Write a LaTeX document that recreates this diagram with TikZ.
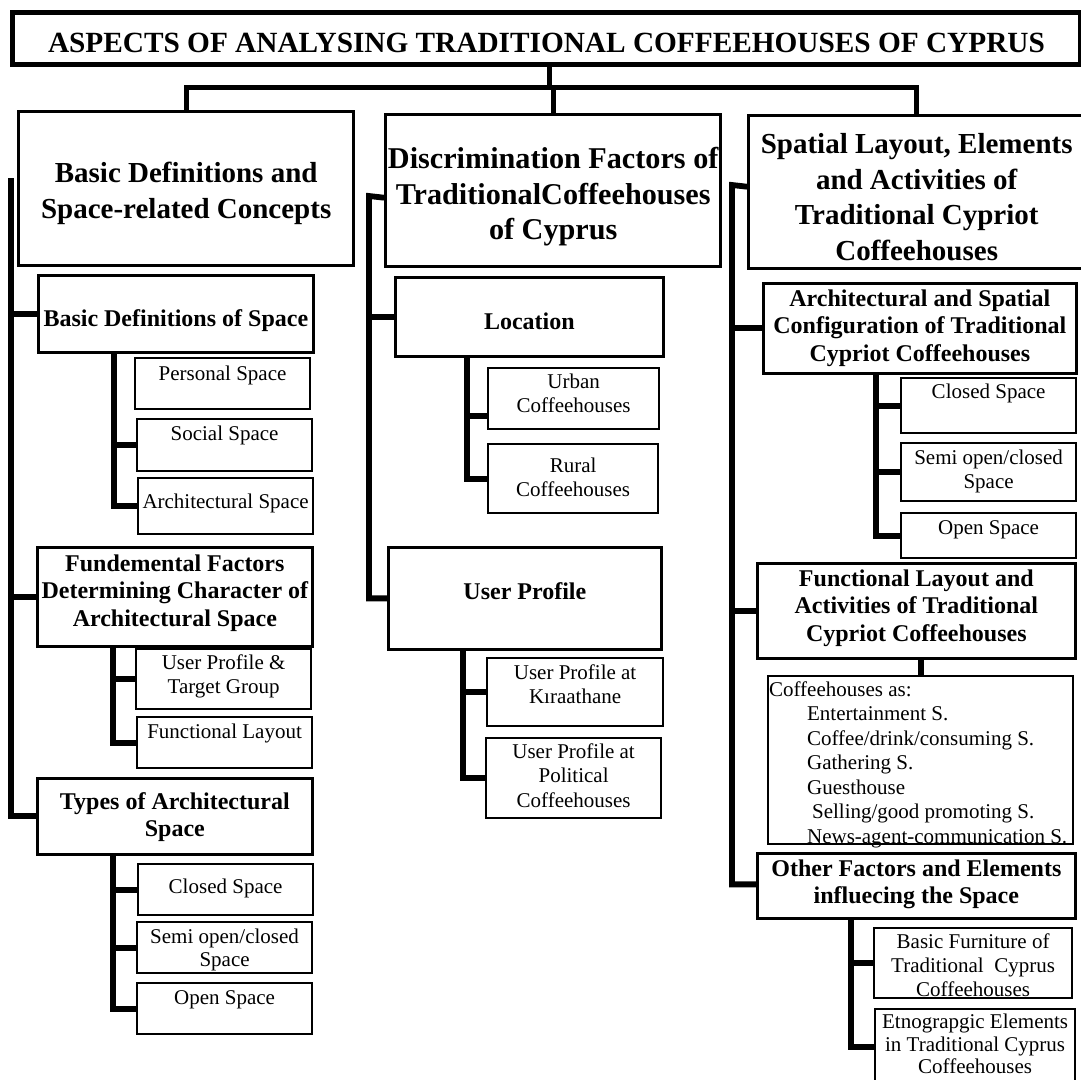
\documentclass[tikz,border=0pt]{standalone}
\usepackage{fontspec}
\setmainfont{Liberation Serif}
\newcommand{\mybox}[8]{\node[#1] (#2) at (#3,#4) {\parbox[t][#6pt][t]{#5pt}{\centering\rule{0pt}{#7pt}#8}};}
\begin{document}
\begin{tikzpicture}[x=1pt,y=-1pt,
  conn/.style={line width=5.8pt},
  tconn/.style={line width=5pt},
  ttlbox/.style={draw, line width=5pt, inner sep=0pt, anchor=north west, font=\fontsize{29.3}{35}\selectfont\bfseries},
  hbox/.style={draw, line width=3.4pt, inner sep=0pt, anchor=north west, font=\fontsize{29}{35.5}\selectfont\bfseries},
  mbox/.style={draw, line width=3.4pt, inner sep=0pt, anchor=north west, font=\fontsize{30.2}{35.5}\selectfont\bfseries},
  sbox/.style={draw, line width=2.7pt, inner sep=0pt, anchor=north west, font=\fontsize{24}{27.5}\selectfont\bfseries},
  cbox/.style={draw, line width=2.2pt, inner sep=0pt, anchor=north west, font=\fontsize{21}{24.5}\selectfont},
]
\fill[white] (0,0) rectangle (1081,1079);
\useasboundingbox (0,0) rectangle (1081,1079);

% title
\mybox{ttlbox}{title}{10}{10}{1068}{52}{40}{ASPECTS OF ANALYSING TRADITIONAL COFFEEHOUSES OF CYPRUS}

% headings
\mybox{hbox}{bdc}{17}{110}{335}{154}{71}{Basic Definitions and\\Space-related Concepts}
\mybox{mbox}{dis}{384}{113}{335}{152}{54}{Discrimination Factors of\\TraditionalCoffeehouses\\of Cyprus}
\mybox{hbox}{spa}{747}{114}{336}{153}{38}{Spatial Layout, Elements\\and Activities of\\Traditional Cypriot\\Coffeehouses}

% left column
\mybox{sbox}{bds}{37}{274}{275}{77}{51}{Basic Definitions of Space}
\mybox{cbox}{per}{134}{357}{175}{51}{22}{Personal Space}
\mybox{cbox}{soc}{136}{418}{175}{52}{21}{Social Space}
\mybox{cbox}{ars}{137}{477}{175}{56}{30}{Architectural Space}
\mybox{sbox}{ffd}{36}{546}{275}{99}{24}{Fundemental Factors\\Determining Character of\\Architectural Space}
\mybox{cbox}{upt}{135}{648}{175}{60}{20}{User Profile \&\\Target Group}
\mybox{cbox}{fnl}{136}{716}{175}{51}{21}{Functional Layout}
\mybox{sbox}{typ}{36}{777}{275}{76}{31}{Types of Architectural\\Space}
\mybox{cbox}{cll}{137}{863}{175}{51}{29}{Closed Space}
\mybox{cbox}{sml}{136}{921}{175}{51}{21}{Semi open/closed\\[-1.5pt]Space}
\mybox{cbox}{opl}{136}{982}{175}{51}{21}{Open Space}

% middle column
\mybox{sbox}{loc}{394}{276}{268}{79}{52}{Location}
\mybox{cbox}{urb}{487}{367}{171}{61}{20}{Urban\\Coffeehouses}
\mybox{cbox}{rur}{487}{443}{170}{69}{28}{Rural\\Coffeehouses}
\mybox{sbox}{upr}{387}{546}{273}{102}{52}{User Profile}
\mybox{cbox}{kir}{486}{657}{176}{68}{21}{User Profile at\\Kıraathane}
\mybox{cbox}{pol}{485}{737}{175}{80}{20}{User Profile at\\Political\\Coffeehouses}

% right column
\mybox{sbox}{arc}{762}{282}{313}{90}{23}{Architectural and Spatial\\Configuration of Traditional\\Cypriot Coffeehouses}
\mybox{cbox}{clr}{900}{377}{175}{55}{20}{Closed Space}
\mybox{cbox}{smr}{900}{442}{175}{58}{21}{Semi open/closed\\Space}
\mybox{cbox}{opr}{900}{512}{175}{45}{21}{Open Space}
\mybox{sbox}{fla}{756}{562}{318}{95}{23}{Functional Layout and\\Activities of Traditional\\Cypriot Coffeehouses}
\node[cbox] (lst) at (767,675) {\parbox[t][168pt][t]{305pt}{\raggedright\rule{0pt}{20pt}\hspace*{1pt}Coffeehouses as:\\
\hspace*{39pt}Entertainment S.\\
\hspace*{39pt}Coffee/drink/consuming S.\\
\hspace*{39pt}Gathering S.\\
\hspace*{39pt}Guesthouse\\
\hspace*{44pt}Selling/good promoting S.\\
\hspace*{39pt}News-agent-communication S.}};
\mybox{sbox}{oth}{756}{852}{318}{65}{23}{Other Factors and Elements\\influecing the Space}
\mybox{cbox}{fur}{873}{927}{198}{70}{20}{Basic Furniture of\\Traditional\ \ Cyprus\\[-0.5pt]Coffeehouses}
\mybox{cbox}{eth}{874}{1008}{200}{76}{19}{Etnograpgic Elements\\[-1pt]in Traditional Cyprus\\[-3pt]Coffeehouses}

% top connectors
\coordinate (tj) at (549,87.5);
\draw[tconn] (title.south -| tj) -- (tj);
\draw[tconn] (bdc.north) |- (tj -| spa.north) -- (spa.north);
\draw[tconn] (tj -| dis.north) -- (dis.north);

% left spine
\coordinate (Ltop) at (11,178);
\draw[conn] (Ltop) |- (typ.west);
\draw[conn] (Ltop |- bds.west) -- (bds.west);
\draw[conn] (Ltop |- ffd.west) -- (ffd.west);
\coordinate (s1) at ([xshift=77pt]bds.south west);
\draw[conn] (s1) |- (ars.west);
\draw[conn] (s1 |- soc.west) -- (soc.west);
\coordinate (s2) at ([xshift=77pt]ffd.south west);
\draw[conn] (s2) |- (fnl.west);
\draw[conn] (s2 |- upt.west) -- (upt.west);
\coordinate (s3) at ([xshift=77pt]typ.south west);
\draw[conn] (s3) |- (opl.west);
\draw[conn] (s3 |- cll.west) -- (cll.west);
\draw[conn] (s3 |- sml.west) -- (sml.west);

% middle spine
\coordinate (Mx) at (369,196);
\draw[conn] ([yshift=-7pt]dis.west) -- (Mx) |- (upr.west);
\draw[conn] (Mx |- loc.west) -- (loc.west);
\coordinate (s4) at ([xshift=73pt]loc.south west);
\coordinate (u1) at ([yshift=-17.5pt]urb.west);
\draw[conn] (s4) |- (rur.west);
\draw[conn] (s4 |- u1) -- (u1);
\coordinate (s5) at ([xshift=76pt]upr.south west);
\draw[conn] (s5) |- (pol.west);
\draw[conn] (s5 |- kir.west) -- (kir.west);

% right spine
\coordinate (Rx) at (732,185);
\draw[conn] ([yshift=5.5pt]spa.west) -- (Rx) |- ([yshift=1.5pt]oth.west);
\draw[conn] (Rx |- arc.west) -- (arc.west);
\draw[conn] (Rx |- fla.west) -- (fla.west);
\coordinate (s6) at ([xshift=114pt]arc.south west);
\draw[conn] (s6) |- (opr.west);
\draw[conn] (s6 |- clr.west) -- (clr.west);
\draw[conn] (s6 |- smr.west) -- (smr.west);
\draw[conn] (lst.north |- fla.south) -- (lst.north);
\coordinate (s7) at ([xshift=95pt]oth.south west);
\draw[conn] (s7) |- (eth.west);
\draw[conn] (s7 |- fur.west) -- (fur.west);
\end{tikzpicture}
\end{document}
